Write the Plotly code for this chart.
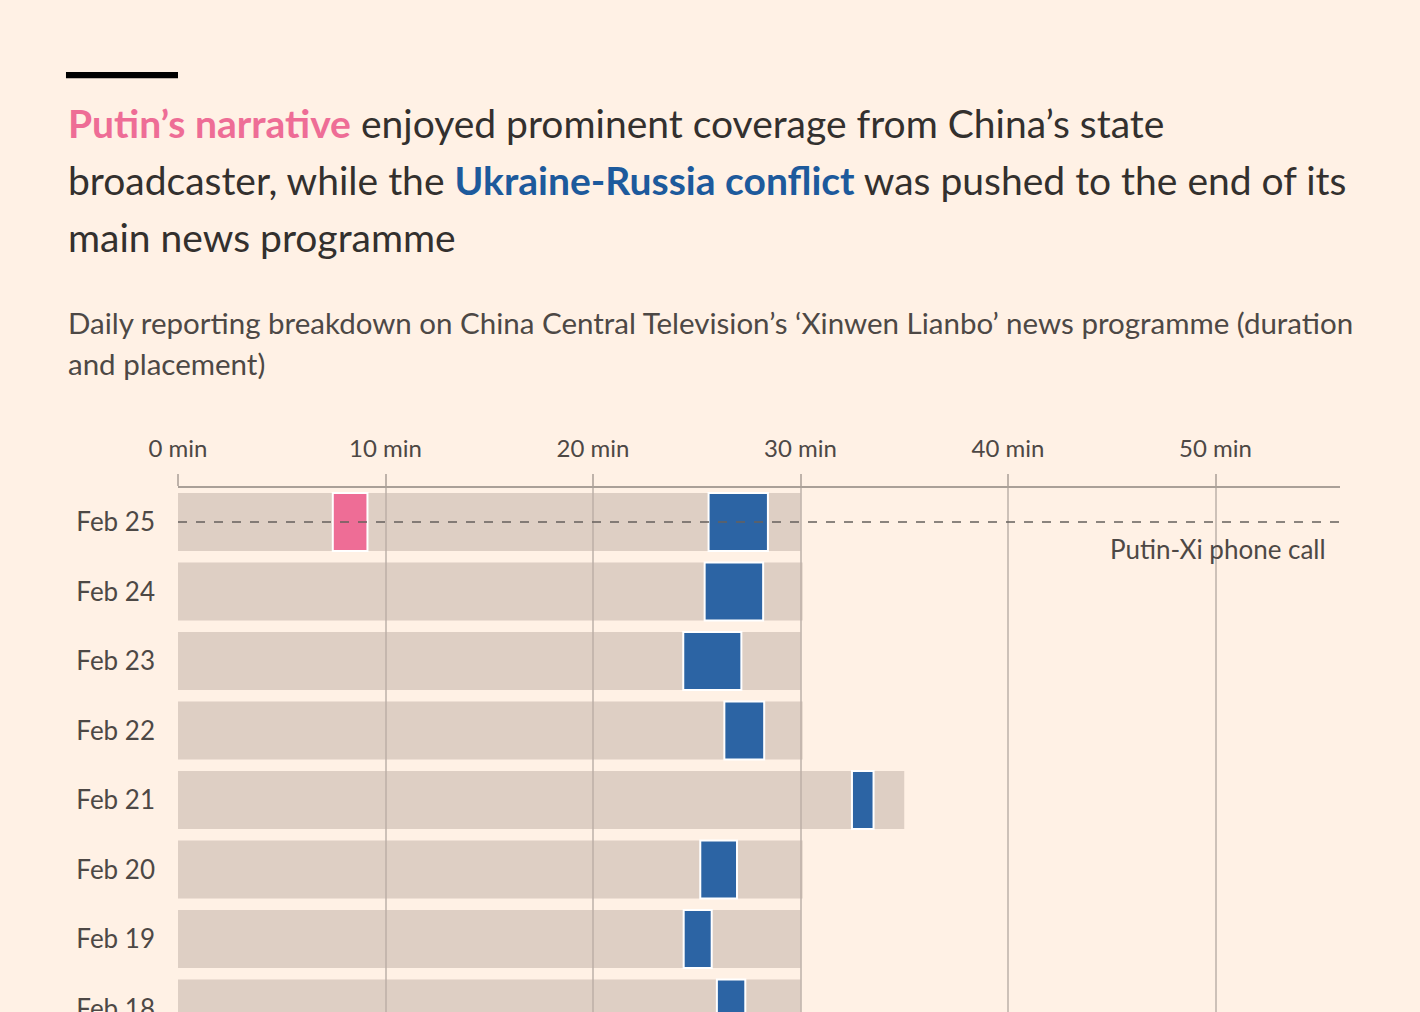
import plotly.graph_objects as go

# Xinwen Lianbo daily breakdown, minutes
dates = ["Feb 25", "Feb 24", "Feb 23", "Feb 22", "Feb 21", "Feb 20", "Feb 19", "Feb 18"]
programme_len = [30.0, 30.1, 30.0, 30.1, 35.0, 30.1, 30.0, 30.0]
ukraine_start = [25.57, 25.38, 24.35, 26.33, 32.48, 25.17, 24.37, 25.97]
ukraine_end = [28.43, 28.2, 27.15, 28.25, 33.52, 26.94, 25.72, 27.34]
putin_start = [7.46, None, None, None, None, None, None, None]
putin_end = [9.13, None, None, None, None, None, None, None]

x_ticks = [0, 10, 20, 30, 40, 50]
x_tick_labels = [f"{t} min" for t in x_ticks]

BG = "#fff1e5"
TXT = "#33302e"
TXT2 = "#4d4845"
PINK = "#ee6d96"
BLUE = "#2c64a4"
BLUE_TXT = "#1d5a9c"
FONT = "Lato"

def seg(a, b):
    return [None if s is None else e - s for s, e in zip(a, b)]

fig = go.Figure()
fig.add_trace(go.Bar(y=dates, x=programme_len, orientation="h", width=0.835,
                     marker=dict(color="rgba(190,174,164,0.5)", line=dict(width=0)),
                     hoverinfo="skip"))
fig.add_trace(go.Bar(y=dates, x=seg(putin_start, putin_end), base=putin_start,
                     orientation="h", width=0.835,
                     marker=dict(color=PINK, line=dict(color="white", width=2))))
fig.add_trace(go.Bar(y=dates, x=seg(ukraine_start, ukraine_end), base=ukraine_start,
                     orientation="h", width=0.835,
                     marker=dict(color=BLUE, line=dict(color="white", width=2))))

# dashed marker line for the phone call
fig.add_shape(type="line", xref="x", yref="y", x0=0, x1=56, y0="Feb 25", y1="Feb 25",
              line=dict(color="#66605c", width=1.5, dash="dash"), layer="above")
fig.add_annotation(x=55.4, y=0.39, xref="x", yref="y", text="Putin-Xi phone call",
                   showarrow=False, xanchor="right", yanchor="middle",
                   font=dict(size=26, color=TXT2, family=FONT))

# black bar above the title
fig.add_shape(type="rect", xref="paper", yref="paper", x0=-0.0964, x1=0,
              y0=1.782, y1=1.794, fillcolor="black", line=dict(width=0))

title_lines = [
    f"<b><span style='color:{PINK}'>Putin’s narrative</span></b> enjoyed prominent coverage from China’s state",
    f"broadcaster, while the <b><span style='color:{BLUE_TXT}'>Ukraine-Russia conflict</span></b> was pushed to the end of its",
    "main news programme",
]
for i, line in enumerate(title_lines):
    ypx = 123 + i * 57
    fig.add_annotation(x=-0.0964, y=(1012 - ypx) / 524, xref="paper", yref="paper",
                       text=line, showarrow=False, xanchor="left", yanchor="middle",
                       font=dict(size=39, color=TXT, family=FONT))

sub_lines = [
    "Daily reporting breakdown on China Central Television’s ‘Xinwen Lianbo’ news programme (duration",
    "and placement)",
]
for i, line in enumerate(sub_lines):
    ypx = 322 + i * 41
    fig.add_annotation(x=-0.0964, y=(1012 - ypx) / 524, xref="paper", yref="paper",
                       text=line, showarrow=False, xanchor="left", yanchor="middle",
                       font=dict(size=29.5, color=TXT2, family=FONT))

fig.update_layout(
    width=1420, height=1012,
    paper_bgcolor=BG, plot_bgcolor=BG,
    barmode="overlay", showlegend=False,
    margin=dict(l=178, r=80, t=488, b=0, autoexpand=False),
    font=dict(family=FONT, color=TXT2),
)
fig.update_xaxes(side="top", range=[0, 56], tickvals=x_ticks, ticktext=x_tick_labels,
                 showgrid=True, gridcolor="#cdc1b8", gridwidth=1.5,
                 showline=True, linecolor="#aaa098", linewidth=1.5,
                 ticks="outside", ticklen=12, tickcolor="#bfb3aa", tickwidth=1.5,
                 ticklabelstandoff=8, automargin=False,
                 tickfont=dict(size=24, color=TXT2), zeroline=False, fixedrange=True)
fig.update_yaxes(categoryorder="array", categoryarray=dates, range=[7.05, -0.49],
                 showgrid=False, ticks="", ticklabelstandoff=22, automargin=False,
                 tickfont=dict(size=26, color=TXT2), showline=False, zeroline=False,
                 fixedrange=True)

fig.write_html("out.html", config={"displayModeBar": False},
               post_script="document.body.style.margin='0';")
